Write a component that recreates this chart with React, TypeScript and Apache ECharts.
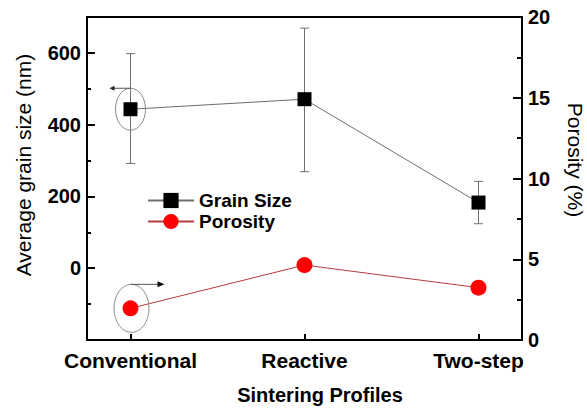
import React, { useEffect, useRef } from 'react';
import * as echarts from 'echarts';

const categories = ['Conventional', 'Reactive', 'Two-step'];
const categoryPositions = [1, 2, 3];
const grainSize = [443, 471, 183];
const grainLow = [292, 269, 124];
const grainHigh = [598, 669, 242];
const porosity = [1.96, 4.64, 3.24];
const leftTicks = [0, 200, 400, 600];
const rightTicks = [0, 5, 10, 15, 20];

const FONT = '"Liberation Sans", Arial, Helvetica, sans-serif';

export default function App() {
  const ref = useRef<HTMLDivElement>(null);
  useEffect(() => {
    const chart = echarts.init(ref.current!, null, { renderer: 'svg' });
    const grainData = categoryPositions.map((x, i) => [x, grainSize[i]]);
    const porData = categoryPositions.map((x, i) => [x, porosity[i]]);
    const errData = categoryPositions.map((x, i) => [x, grainLow[i], grainHigh[i]]);
    const boldLabel = { fontFamily: FONT, fontWeight: 'bold', color: '#000' };

    chart.setOption({
      animation: false,
      backgroundColor: '#fff',
      grid: { left: 87, right: 65, top: 17, bottom: 68, show: true, borderColor: '#000', borderWidth: 2 },
      legend: {
        data: ['Grain Size', 'Porosity'],
        orient: 'vertical',
        left: 142,
        top: 186,
        itemWidth: 46,
        itemHeight: 19,
        itemGap: 2,
        textStyle: { ...boldLabel, fontSize: 19 },
      },
      xAxis: {
        type: 'value',
        min: 0.75,
        max: 3.25,
        splitLine: { show: false },
        axisLine: { onZero: false, lineStyle: { color: '#000', width: 2 } },
        axisTick: { inside: true, length: 6, customValues: categoryPositions, lineStyle: { color: '#000', width: 2 } },
        axisLabel: {
          ...boldLabel,
          fontSize: 21,
          margin: 10,
          customValues: categoryPositions,
          formatter: (v: number) => categories[Math.round(v) - 1] ?? '',
        },
      },
      yAxis: [
        {
          type: 'value',
          position: 'left',
          min: -200,
          max: 700,
          interval: 200,
          splitLine: { show: false },
          axisLine: { show: true, onZero: false, lineStyle: { color: '#000', width: 2 } },
          axisTick: { inside: true, length: 8, lineStyle: { color: '#000', width: 2 } },
          minorTick: { show: true, splitNumber: 2, length: 4, lineStyle: { color: '#000', width: 2 } },
          axisLabel: { ...boldLabel, fontSize: 20, margin: 6, customValues: leftTicks },
        },
        {
          type: 'value',
          position: 'right',
          min: 0,
          max: 20,
          interval: 5,
          splitLine: { show: false },
          axisLine: { show: true, onZero: false, lineStyle: { color: '#000', width: 2 } },
          axisTick: { inside: true, length: 9, lineStyle: { color: '#000', width: 2 } },
          minorTick: { show: true, splitNumber: 2, length: 5, lineStyle: { color: '#000', width: 2 } },
          axisLabel: { ...boldLabel, fontSize: 20, margin: 6, customValues: rightTicks },
        },
      ],
      series: [
        {
          name: 'errors',
          type: 'custom',
          xAxisIndex: 0,
          yAxisIndex: 0,
          z: 1,
          data: errData,
          renderItem: (params: any, api: any) => {
            const x = api.value(0);
            const lo = api.coord([x, api.value(1)]);
            const hi = api.coord([x, api.value(2)]);
            const w = 4.5;
            const style = { stroke: '#707070', lineWidth: 1 };
            return {
              type: 'group',
              children: [
                { type: 'line', shape: { x1: hi[0], y1: hi[1], x2: lo[0], y2: lo[1] }, style },
                { type: 'line', shape: { x1: hi[0] - w, y1: hi[1], x2: hi[0] + w, y2: hi[1] }, style },
                { type: 'line', shape: { x1: lo[0] - w, y1: lo[1], x2: lo[0] + w, y2: lo[1] }, style },
              ],
            };
          },
        },
        {
          name: 'Grain Size',
          type: 'line',
          xAxisIndex: 0,
          yAxisIndex: 0,
          z: 3,
          data: grainData,
          symbol: 'rect',
          symbolSize: 14,
          itemStyle: { color: '#000' },
          lineStyle: { color: '#6e6e6e', width: 1 },
        },
        {
          name: 'Porosity',
          type: 'line',
          xAxisIndex: 0,
          yAxisIndex: 1,
          z: 3,
          data: porData,
          symbol: 'circle',
          symbolSize: 16,
          itemStyle: { color: '#ff0000' },
          lineStyle: { color: '#b83a3c', width: 1 },
        },
      ],
    });

    const p1 = chart.convertToPixel({ xAxisIndex: 0, yAxisIndex: 0 }, grainData[0]) as number[];
    const p2 = chart.convertToPixel({ xAxisIndex: 0, yAxisIndex: 1 }, porData[0]) as number[];
    const ringStyle = { fill: 'none', stroke: '#8a8a8a', lineWidth: 1 };
    const a1y = p1[1] - 21;
    const a2y = p2[1] - 24;

    chart.setOption({
      graphic: [
        { type: 'ellipse', z: 5, shape: { cx: p1[0], cy: p1[1], rx: 15, ry: 21 }, style: ringStyle },
        { type: 'line', z: 5, shape: { x1: p1[0], y1: a1y, x2: p1[0] - 19, y2: a1y }, style: { stroke: '#555', lineWidth: 1 } },
        {
          type: 'polygon', z: 5,
          shape: { points: [[p1[0] - 21, a1y], [p1[0] - 16, a1y - 2.5], [p1[0] - 16, a1y + 2.5]] },
          style: { fill: '#222' },
        },
        { type: 'ellipse', z: 5, shape: { cx: p2[0] + 1, cy: p2[1], rx: 17.5, ry: 24 }, style: ringStyle },
        { type: 'line', z: 5, shape: { x1: p2[0], y1: a2y, x2: p2[0] + 30, y2: a2y }, style: { stroke: '#555', lineWidth: 1 } },
        {
          type: 'polygon', z: 5,
          shape: { points: [[p2[0] + 34, a2y], [p2[0] + 27, a2y - 3], [p2[0] + 27, a2y + 3]] },
          style: { fill: '#111' },
        },
        {
          type: 'text', x: 23, y: 165, rotation: Math.PI / 2,
          style: { text: 'Average grain size (nm)', fontFamily: FONT, fontSize: 21, fill: '#000', align: 'center', verticalAlign: 'middle' },
        },
        {
          type: 'text', x: 575, y: 160, rotation: -Math.PI / 2,
          style: { text: 'Porosity (%)', fontFamily: FONT, fontSize: 21, fill: '#000', align: 'center', verticalAlign: 'middle' },
        },
        {
          type: 'text', x: 320, y: 395,
          style: { text: 'Sintering Profiles', fontFamily: FONT, fontSize: 20, fontWeight: 'bold', fill: '#000', align: 'center', verticalAlign: 'middle' },
        },
      ],
    });

    return () => chart.dispose();
  }, []);
  return <div ref={ref} style={{ position: 'absolute', left: 0, top: 0, width: 587, height: 408 }} />;
}
